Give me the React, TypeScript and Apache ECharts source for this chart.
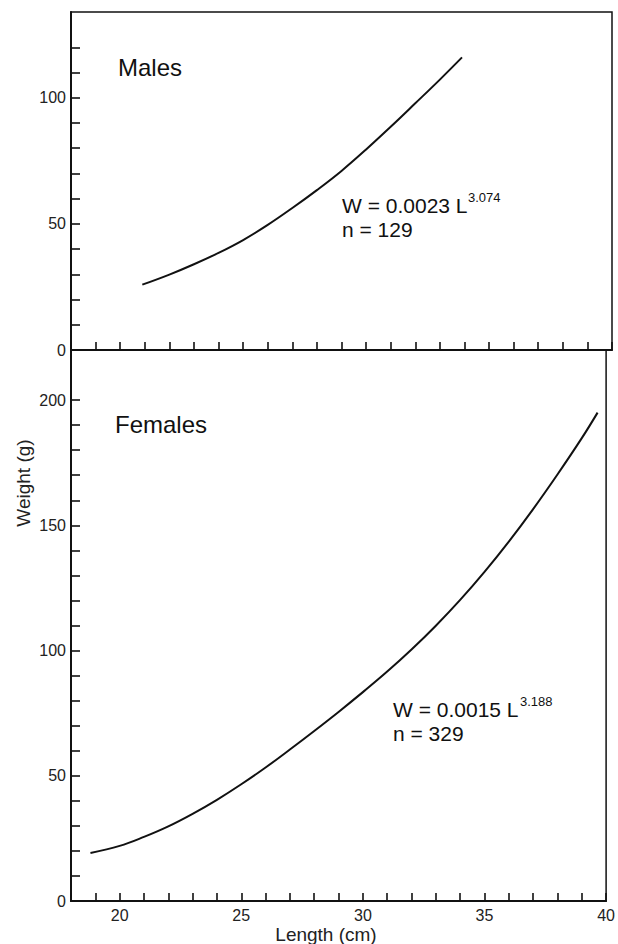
import React, { useEffect, useRef } from "react";
import * as echarts from "echarts";

const lengthMin = 18;
const lengthMax = 40;
const lengthLabelValues = [20, 25, 30, 35, 40];

const maleWeightMax = 134;
const maleTickValues = [10, 20, 30, 40, 50, 60, 70, 80, 90, 100, 110, 120];
const maleLabelValues = [0, 50, 100];
const maleLength = [20.9, 22, 23, 24, 25, 26, 27, 28, 29, 30, 31, 32, 33, 33.9];
const maleWeight = [25.9, 29.9, 34.0, 38.5, 43.6, 49.6, 56.3, 63.4, 71.0, 79.5, 88.5, 97.8, 107.2, 116.0];

const femaleWeightMax = 220;
const femaleTickValues = [10, 20, 30, 40, 50, 60, 70, 80, 90, 100, 110, 120, 130, 140, 150, 160, 170, 180, 190, 200];
const femaleLabelValues = [0, 50, 100, 150, 200];
const femaleLength = [18.8, 20, 21, 22, 23, 24, 25, 26, 27, 28, 29, 30, 31, 32, 33, 34, 35, 36, 37, 38, 39, 39.65];
const femaleWeight = [19.2, 22.0, 25.6, 29.8, 34.8, 40.4, 46.6, 53.3, 60.5, 67.9, 75.5, 83.4, 91.6, 100.4, 109.9, 120.2, 131.4, 143.5, 156.5, 170.3, 184.8, 195.0];

const FONT = "'Liberation Sans', Arial, Helvetica, sans-serif";
const INK = "#111";

function pairs(xs: number[], ys: number[]) {
  return xs.map((x, i) => [x, ys[i]]);
}

export default function App() {
  const ref = useRef<HTMLDivElement>(null);

  useEffect(() => {
    if (!ref.current) return;
    const chart = echarts.init(ref.current, undefined, { renderer: "svg" });

    const xAxisBase = (showLabels: boolean, gridIndex: number) => ({
      type: "value",
      gridIndex,
      min: lengthMin,
      max: lengthMax,
      interval: 1,
      splitLine: { show: false },
      axisLine: { show: true, onZero: false, lineStyle: { color: INK, width: 2 } },
      axisTick: { show: true, inside: true, length: 8, lineStyle: { color: INK, width: 1.6 } },
      axisLabel: {
        show: showLabels,
        customValues: lengthLabelValues,
        margin: 6,
        color: "#222",
        fontFamily: FONT,
        fontSize: 16,
      },
    });

    const yAxisBase = (max: number, ticks: number[], labels: number[], gridIndex: number) => ({
      type: "value",
      gridIndex,
      min: 0,
      max,
      interval: 10,
      splitLine: { show: false },
      axisLine: { show: true, onZero: false, lineStyle: { color: INK, width: 2 } },
      axisTick: {
        show: true,
        inside: true,
        length: 9,
        customValues: ticks,
        lineStyle: { color: INK, width: 1.6 },
      },
      axisLabel: {
        show: true,
        customValues: labels,
        margin: 5,
        color: "#222",
        fontFamily: FONT,
        fontSize: 16,
      },
    });

    const option: any = {
      animation: false,
      backgroundColor: "#fff",
      grid: [
        { left: 71, right: 6, top: 12, height: 338, show: true, borderColor: INK, borderWidth: 1.5, containLabel: false },
        { left: 71, right: 6, top: 350, bottom: 43, show: true, borderColor: INK, borderWidth: 1.5, containLabel: false },
      ],
      xAxis: [xAxisBase(false, 0), xAxisBase(true, 1)],
      yAxis: [
        yAxisBase(maleWeightMax, maleTickValues, maleLabelValues, 0),
        yAxisBase(femaleWeightMax, femaleTickValues, femaleLabelValues, 1),
      ],
      series: [
        {
          name: "Males",
          type: "line",
          xAxisIndex: 0,
          yAxisIndex: 0,
          data: pairs(maleLength, maleWeight),
          smooth: 0.4,
          showSymbol: false,
          lineStyle: { color: INK, width: 2 },
        },
        {
          name: "Females",
          type: "line",
          xAxisIndex: 1,
          yAxisIndex: 1,
          data: pairs(femaleLength, femaleWeight),
          smooth: 0.4,
          showSymbol: false,
          lineStyle: { color: INK, width: 2 },
        },
      ],
      graphic: [
        { type: "text", left: 118, top: 55, style: { text: "Males", font: `24px ${FONT}`, fill: INK } },
        { type: "text", left: 115, top: 412, style: { text: "Females", font: `24px ${FONT}`, fill: INK } },
        { type: "text", x: 342, y: 205, style: { text: "W = 0.0023 L", font: `21px ${FONT}`, fill: INK, verticalAlign: "middle" } },
        { type: "text", x: 468, y: 197, style: { text: "3.074", font: `13px ${FONT}`, fill: INK, verticalAlign: "middle" } },
        { type: "text", x: 342, y: 229, style: { text: "n = 129", font: `21px ${FONT}`, fill: INK, verticalAlign: "middle" } },
        { type: "text", x: 393, y: 709, style: { text: "W = 0.0015 L", font: `21px ${FONT}`, fill: INK, verticalAlign: "middle" } },
        { type: "text", x: 520, y: 701, style: { text: "3.188", font: `13px ${FONT}`, fill: INK, verticalAlign: "middle" } },
        { type: "text", x: 393, y: 733, style: { text: "n = 329", font: `21px ${FONT}`, fill: INK, verticalAlign: "middle" } },
        {
          type: "text",
          x: 23,
          y: 483,
          rotation: Math.PI / 2,
          style: { text: "Weight (g)", font: `19px ${FONT}`, fill: "#222", align: "center", verticalAlign: "middle" },
        },
        {
          type: "text",
          x: 326,
          y: 934,
          style: { text: "Length (cm)", font: `19px ${FONT}`, fill: "#222", align: "center", verticalAlign: "middle" },
        },
      ],
    };

    chart.setOption(option);
    return () => chart.dispose();
  }, []);

  return (
    <div
      ref={ref}
      style={{ position: "fixed", left: 0, top: 0, width: 618, height: 944, background: "#fff" }}
    />
  );
}
